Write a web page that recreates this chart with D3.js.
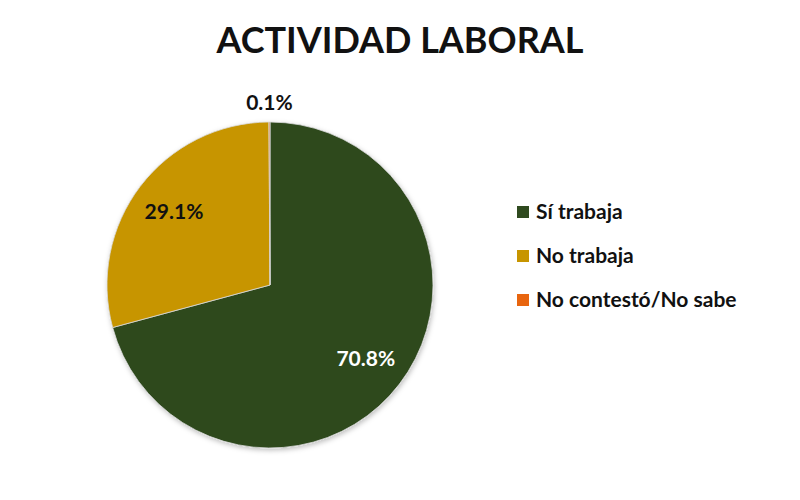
<!DOCTYPE html>
<html><head><meta charset="utf-8">
<script src="https://cdn.jsdelivr.net/npm/d3@7"></script>
<style>body{margin:0;background:#fff}</style>
</head><body>
<svg id="c" width="800" height="500"></svg>
<script>
const categories = ["Sí trabaja", "No trabaja", "No contestó/No sabe"];
const values = [70.8, 29.1, 0.1];
const labels = ["70.8%", "29.1%", "0.1%"];
const colors = ["#2f4a1f", "#c79500", "#e8650f"];
const title = "ACTIVIDAD LABORAL";

const svg = d3.select("#c");
const font = "Lato, 'Open Sans', sans-serif";
svg.append("rect").attr("width",800).attr("height",500).attr("fill","#fff");

const defs = svg.append("defs");
const f = defs.append("filter").attr("id","sh").attr("x","-20%").attr("y","-20%").attr("width","140%").attr("height","140%");
f.append("feDropShadow").attr("dx",1).attr("dy",2).attr("stdDeviation",2.5).attr("flood-color","#000").attr("flood-opacity",0.25);

svg.append("text").attr("x",400).attr("y",53).attr("text-anchor","middle")
  .attr("font-family",font).attr("font-weight",700).attr("font-size",36).attr("fill","#111")
  .text(title);

const cx = 270, cy = 285, R = 163;
const pie = d3.pie().sort(null).value(d => d)(values);
const arc = d3.arc().innerRadius(0).outerRadius(R);
const g = svg.append("g").attr("transform",`translate(${cx},${cy})`);
g.append("g").attr("filter","url(#sh)").selectAll("path").data(pie).join("path")
  .attr("d",arc).attr("fill",(d,i)=>colors[i]).attr("stroke","#d9d9d9").attr("stroke-width",0.8);

const inArc = d3.arc().innerRadius(R*0.74).outerRadius(R*0.74);
const outArc = d3.arc().innerRadius(R+19).outerRadius(R+19);
g.selectAll("text.l").data(pie).join("text")
  .attr("transform",(d,i)=>{const p = i===2 ? outArc.centroid(d) : inArc.centroid(d); return `translate(${p[0]},${p[1]})`;})
  .attr("text-anchor","middle").attr("dy","0.35em")
  .attr("font-family",font).attr("font-weight",700).attr("font-size",21)
  .attr("fill",(d,i)=> i===0 ? "#fff" : "#111")
  .text((d,i)=>labels[i]);

const leg = svg.append("g").attr("transform","translate(517,212)");
const items = leg.selectAll("g").data(categories).join("g").attr("transform",(d,i)=>`translate(0,${i*44})`);
items.append("rect").attr("x",0).attr("y",-6).attr("width",12).attr("height",12).attr("fill",(d,i)=>colors[i]);
items.append("text").attr("x",19).attr("dy","0.35em").attr("font-family",font).attr("font-weight",700)
  .attr("font-size",21).attr("fill","#111").text(d=>d);
</script>
</body></html>
